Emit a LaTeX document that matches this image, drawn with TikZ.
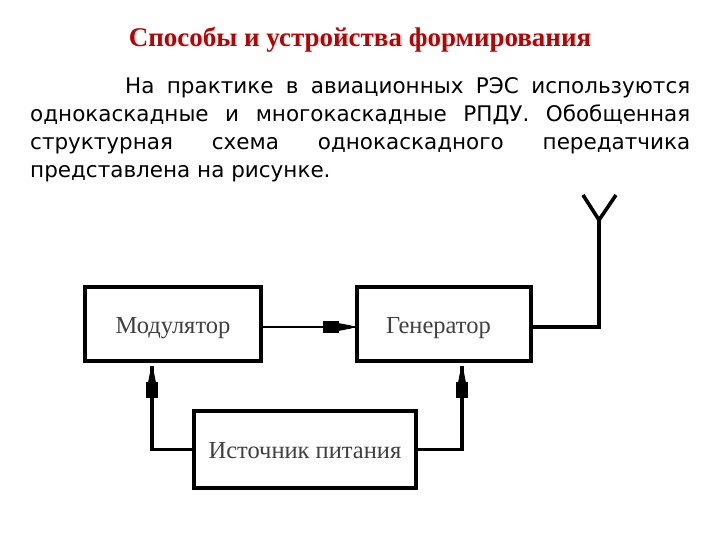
\documentclass[tikz,border=0pt]{standalone}
\usepackage{fontspec}
\setmainfont{Liberation Serif}
\newfontfamily\bodyfont{DejaVu Sans}
\usetikzlibrary{decorations.markings,calc}
\definecolor{titlered}{RGB}{192,0,0}
\newcommand\myhead{\fill (-30pt,-5.8pt) rectangle (-14pt,5.8pt);
  \fill (-14.5pt,-4pt) -- (-1pt,-1.4pt) -- (-1pt,1.4pt) -- (-14.5pt,4pt) -- cycle;}
\tikzset{
  blockbox/.style={draw, line width=3.8pt, fill=white, inner sep=0pt,
    font=\fontsize{24.5}{28}\selectfont, text=black!75,
    text height=19pt, text depth=0pt},
  conn/.style={line width=3.3pt, line join=miter},
  headend/.style={postaction={decorate}, decoration={markings,
    mark=at position -2.5pt with {\myhead}}},
}
\begin{document}
\begin{tikzpicture}[x=1pt,y=-1pt]
\useasboundingbox (0,0) rectangle (720,540);
\fill[white] (0,0) rectangle (720,540);
% title
\node[anchor=base, inner sep=0pt, text=titlered,
  font=\fontsize{27}{30}\selectfont\bfseries] (title) at (360,46.7)
  {Способы и устройства формирования};
% body
\node[anchor=base west, inner sep=0pt] (body) at (30,94)
  {\parbox[t]{660pt}{\bodyfont\fontsize{21.5}{28}\selectfont\hbadness=10000\sloppy
  \hspace*{95pt}На практике в авиационных РЭС используются\linebreak
  однокаскадные и многокаскадные РПДУ. Обобщенная\linebreak
  структурная схема однокаскадного передатчика\linebreak
  представлена на рисунке.}};
% blocks
\node[blockbox, minimum width=176pt, minimum height=74pt] (mod) at (173,324) {Модулятор};
\node[blockbox, minimum width=174pt, minimum height=74pt] (gen) at (444,324) {Генератор\hspace*{11pt}};
\node[blockbox, minimum width=222pt, minimum height=77pt, text height=17pt] (src) at (305,449.5) {Источник питания};
% connectors
\draw[conn, line width=2.8pt, headend] ([yshift=-3pt]mod.east) -- ([yshift=-3pt]gen.west);
\draw[conn, headend] (src.west) -| ([xshift=-21pt,yshift=-3pt]mod.south);
\draw[conn, headend] (src.east) -| ([xshift=18pt,yshift=-3pt]gen.south);
% antenna
\coordinate (ant) at (599,220);
\draw[conn, line width=3.6pt] ([yshift=-3pt]gen.east) -| (ant);
\draw[conn, line width=3.6pt] (583,195) -- (ant) -- (616,195);
\end{tikzpicture}
\end{document}
